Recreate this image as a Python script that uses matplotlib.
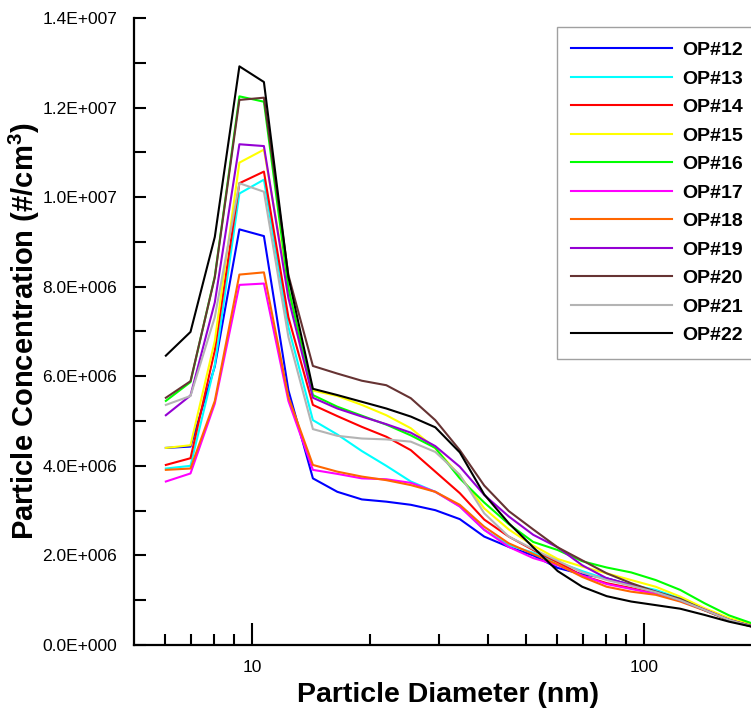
import matplotlib
matplotlib.use("Agg")
import matplotlib.pyplot as plt
import numpy as np
from matplotlib.ticker import FuncFormatter, FixedLocator, MultipleLocator

plt.rcParams['font.family'] = 'Liberation Sans'
plt.rcParams['mathtext.fontset'] = 'custom'
plt.rcParams['mathtext.rm'] = 'Liberation Sans'
plt.rcParams['mathtext.bf'] = 'Liberation Sans:bold'

# particle diameter (nm), 16 channels per decade
diam = [6.03, 6.97, 8.04, 9.29, 10.73, 12.39, 14.31, 16.52, 19.08, 22.03, 25.44, 29.38, 33.93,
        39.17, 45.24, 52.24, 60.32, 69.66, 80.44, 92.90, 107.3, 123.9, 143.1, 165.2, 190.8]

# concentrations in 1e6 #/cm3
op12 = [4.40, 4.43, 6.22, 9.28, 9.13, 5.69, 3.72, 3.42, 3.25, 3.20, 3.13, 3.01, 2.81,
        2.42, 2.19, 2.00, 1.72, 1.58, 1.49, 1.34, 1.19, 1.00, 0.78, 0.56, 0.40]
op13 = [3.94, 4.00, 6.25, 10.08, 10.39, 7.10, 5.02, 4.70, 4.33, 4.00, 3.65, 3.42, 3.10,
        2.57, 2.23, 2.06, 1.85, 1.65, 1.47, 1.34, 1.23, 1.04, 0.78, 0.56, 0.40]
op14 = [4.02, 4.17, 6.58, 10.31, 10.57, 7.32, 5.36, 5.11, 4.87, 4.65, 4.35, 3.87, 3.39,
        2.80, 2.42, 2.12, 1.85, 1.55, 1.38, 1.27, 1.15, 1.00, 0.78, 0.56, 0.40]
op15 = [4.40, 4.46, 6.79, 10.77, 11.06, 7.92, 5.68, 5.56, 5.36, 5.13, 4.84, 4.39, 3.78,
        3.05, 2.58, 2.22, 1.92, 1.75, 1.60, 1.45, 1.30, 1.08, 0.82, 0.60, 0.45]
op16 = [5.45, 5.87, 8.23, 12.25, 12.13, 7.97, 5.58, 5.32, 5.12, 4.92, 4.68, 4.40, 3.72,
        3.18, 2.70, 2.30, 2.12, 1.87, 1.73, 1.62, 1.45, 1.23, 0.93, 0.66, 0.47]
op17 = [3.65, 3.83, 5.39, 8.04, 8.07, 5.45, 3.91, 3.82, 3.72, 3.70, 3.62, 3.42, 3.09,
        2.57, 2.19, 1.94, 1.78, 1.55, 1.36, 1.25, 1.14, 0.99, 0.79, 0.56, 0.41]
op18 = [3.91, 3.94, 5.45, 8.27, 8.32, 5.54, 4.02, 3.87, 3.76, 3.68, 3.57, 3.42, 3.13,
        2.64, 2.27, 2.03, 1.80, 1.52, 1.30, 1.19, 1.12, 0.97, 0.77, 0.55, 0.40]
op19 = [5.13, 5.57, 7.65, 11.18, 11.14, 7.75, 5.52, 5.28, 5.10, 4.93, 4.74, 4.44, 3.98,
        3.35, 2.87, 2.46, 2.18, 1.78, 1.49, 1.34, 1.19, 1.00, 0.78, 0.56, 0.41]
op20 = [5.52, 5.89, 8.21, 12.17, 12.22, 8.26, 6.23, 6.06, 5.90, 5.80, 5.51, 5.02, 4.35,
        3.56, 2.99, 2.58, 2.18, 1.89, 1.60, 1.38, 1.19, 1.03, 0.78, 0.56, 0.41]
op21 = [5.36, 5.56, 7.32, 10.31, 10.12, 6.88, 4.82, 4.67, 4.61, 4.59, 4.54, 4.31, 3.80,
        2.94, 2.42, 2.14, 1.88, 1.62, 1.45, 1.32, 1.18, 1.00, 0.78, 0.56, 0.40]
op22 = [6.46, 6.99, 9.11, 12.92, 12.57, 8.22, 5.72, 5.58, 5.43, 5.28, 5.10, 4.86, 4.30,
        3.36, 2.72, 2.18, 1.65, 1.30, 1.09, 0.97, 0.89, 0.81, 0.67, 0.52, 0.40]

labels = ['OP#12', 'OP#13', 'OP#14', 'OP#15', 'OP#16', 'OP#17',
          'OP#18', 'OP#19', 'OP#20', 'OP#21', 'OP#22']
series = [op12, op13, op14, op15, op16, op17, op18, op19, op20, op21, op22]
colors = ['#0000ff', '#00ffff', '#ff0000', '#ffff00', '#00ff00', '#ff00ff',
          '#ff6600', '#9400d3', '#663333', '#b4b4b4', '#000000']

fig = plt.figure(figsize=(7.51, 7.13), dpi=100)
ax = fig.add_axes([0.1784, 0.0954, 0.8358, 0.8794])

for vals, lab, col in zip(series, labels, colors):
    ax.plot(diam, np.array(vals) * 1e6, color=col, lw=1.5, label=lab)

ax.set_xscale('log')
ax.set_xlim(5, 200)
ax.set_ylim(0, 1.4e7)

def sci(v, pos):
    if v == 0:
        return '0.0E+000'
    e = int(np.floor(np.log10(abs(v)) + 1e-9))
    return '%.1fE+%03d' % (v / 10**e, e)

ax.yaxis.set_major_locator(MultipleLocator(2e6))
ax.yaxis.set_minor_locator(MultipleLocator(1e6))
ax.yaxis.set_major_formatter(FuncFormatter(sci))
ax.xaxis.set_major_locator(FixedLocator([10, 100]))
ax.xaxis.set_major_formatter(FuncFormatter(lambda v, p: '%d' % v))
ax.xaxis.set_minor_locator(FixedLocator([6, 7, 8, 9, 20, 30, 40, 50, 60, 70, 80, 90, 200]))
ax.xaxis.set_minor_formatter(FuncFormatter(lambda v, p: ''))

ax.tick_params(axis='both', which='both', direction='in', width=1.5, labelsize=12.5)
ax.tick_params(axis='y', which='both', length=8.5, pad=12)
ax.tick_params(axis='x', which='major', length=16, pad=11)
ax.tick_params(axis='x', which='minor', length=8)

for s in ['top', 'right']:
    ax.spines[s].set_visible(False)
for s in ['left', 'bottom']:
    ax.spines[s].set_linewidth(1.6)

ax.set_xlabel('Particle Diameter (nm)', fontsize=20.5, fontweight='bold', labelpad=5)
ax.set_ylabel('Particle Concentration (#/cm$^{\\mathbf{3}}$)', fontsize=21,
              fontweight='bold', labelpad=0)

leg = ax.legend(loc='upper left', bbox_to_anchor=(0.7413, 0.9621),
                bbox_transform=fig.transFigure, borderaxespad=0,
                handlelength=5.2, labelspacing=0.56, handletextpad=0.52,
                borderpad=0.75, fancybox=False, framealpha=1,
                prop={'weight': 'bold', 'size': 14})
leg.get_frame().set_edgecolor('#a0a0a0')
leg.get_frame().set_linewidth(1.0)

fig.savefig('out.png', dpi=100)
